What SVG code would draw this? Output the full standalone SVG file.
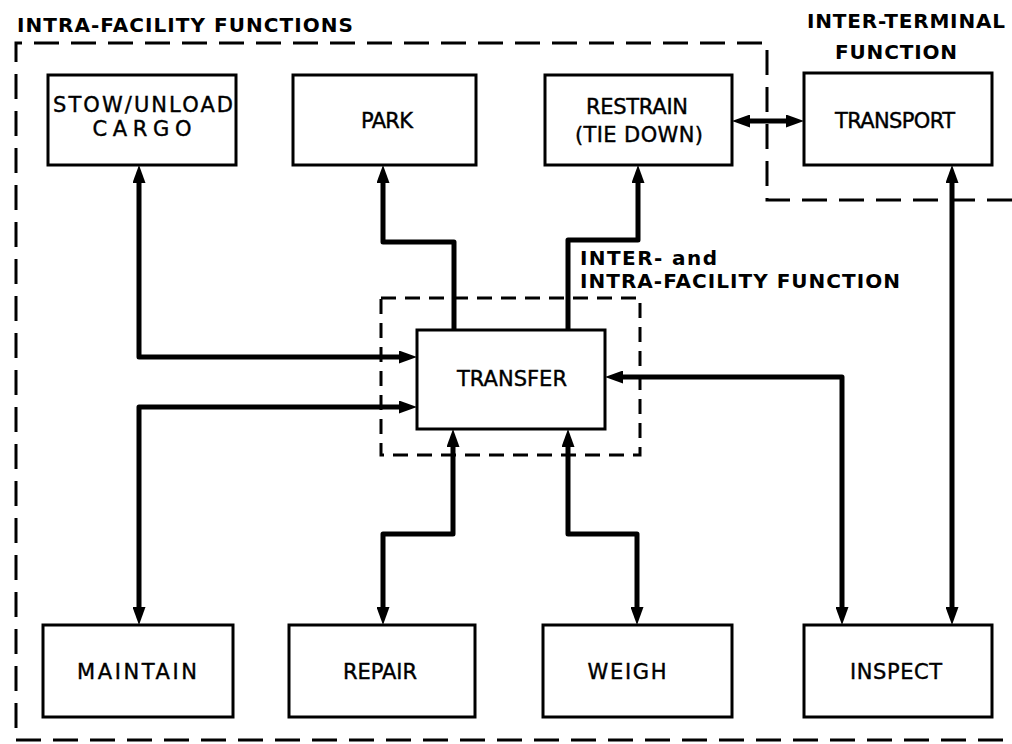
<svg xmlns="http://www.w3.org/2000/svg" width="1012" height="744" viewBox="0 0 1012 744">
<style>
.box{fill:#fff;stroke:#000;stroke-width:3}
.lbl{font-family:"DejaVu Sans","Liberation Sans",sans-serif;font-size:21px;fill:#000;text-anchor:middle;stroke:#000;stroke-width:0.4}
.hdr{font-family:"DejaVu Sans","Liberation Sans",sans-serif;font-size:20px;font-weight:bold;fill:#000}
.con{fill:none;stroke:#000;stroke-width:5;stroke-linejoin:round}
.dash{fill:none;stroke:#000;stroke-width:3}
</style>
<defs>
<marker id="ah" viewBox="0 0 18 13" refX="9" refY="6.5" markerWidth="18" markerHeight="13" markerUnits="userSpaceOnUse" orient="auto-start-reverse">
<path d="M0,0 L18,6.5 L0,13 z" fill="#000"/>
</marker>
</defs>
<rect width="1012" height="744" fill="#fff"/>
<g id="boundaries">
<path class="dash" d="M1012,200 L767,200 L767,43 L16,43 L16,740 L1012,740" stroke-dasharray="25 12"/>
<rect class="dash" x="381" y="298" width="259" height="157" stroke-dasharray="15 9"/>
</g>
<g id="labels">
<text class="hdr" x="17" y="32" textLength="336" lengthAdjust="spacing">INTRA-FACILITY FUNCTIONS</text>
<text class="hdr" x="807" y="28" textLength="198" lengthAdjust="spacing">INTER-TERMINAL</text>
<text class="hdr" x="835" y="59" textLength="122" lengthAdjust="spacing">FUNCTION</text>
<text class="hdr" x="580" y="265" textLength="137" lengthAdjust="spacing">INTER- and</text>
<text class="hdr" x="580" y="288" textLength="320" lengthAdjust="spacing">INTRA-FACILITY FUNCTION</text>
</g>
<g id="connectors">
<path class="con" d="M139,174 L139,357 L408,357" marker-start="url(#ah)" marker-end="url(#ah)"/>
<path class="con" d="M408,407 L139,407 L139,616" marker-start="url(#ah)" marker-end="url(#ah)"/>
<path class="con" d="M454,330 L454,242 L383,242 L383,174" marker-end="url(#ah)"/>
<path class="con" d="M568,330 L568,240 L638,240 L638,174" marker-end="url(#ah)"/>
<path class="con" d="M741,121 L795,121" marker-start="url(#ah)" marker-end="url(#ah)"/>
<path class="con" d="M952,174 L952,616" marker-start="url(#ah)" marker-end="url(#ah)"/>
<path class="con" d="M614,377 L842,377 L842,616" marker-start="url(#ah)" marker-end="url(#ah)"/>
<path class="con" d="M453,438 L453,534 L383,534 L383,616" marker-start="url(#ah)" marker-end="url(#ah)"/>
<path class="con" d="M568,438 L568,534 L637,534 L637,616" marker-start="url(#ah)" marker-end="url(#ah)"/>
</g>
<g id="stow"><rect class="box" x="48" y="75" width="188" height="90"/>
<text class="lbl" x="143" y="112" textLength="180" lengthAdjust="spacing">STOW/UNLOAD</text>
<text class="lbl" x="142" y="136" textLength="99" lengthAdjust="spacing">CARGO</text></g>
<g id="park"><rect class="box" x="293" y="75" width="183" height="90"/>
<text class="lbl" x="387" y="128" textLength="52" lengthAdjust="spacing">PARK</text></g>
<g id="restrain"><rect class="box" x="545" y="75" width="187" height="90"/>
<text class="lbl" x="637" y="114" textLength="102" lengthAdjust="spacing">RESTRAIN</text>
<text class="lbl" x="639" y="142" textLength="128" lengthAdjust="spacing">(TIE DOWN)</text></g>
<g id="transport"><rect class="box" x="804" y="73" width="188" height="92"/>
<text class="lbl" x="895" y="128" textLength="120" lengthAdjust="spacing">TRANSPORT</text></g>
<g id="transfer"><rect class="box" x="417" y="330" width="188" height="99"/>
<text class="lbl" x="512" y="386" textLength="110" lengthAdjust="spacing">TRANSFER</text></g>
<g id="maintain"><rect class="box" x="43" y="625" width="190" height="92"/>
<text class="lbl" x="137" y="679" textLength="120" lengthAdjust="spacing">MAINTAIN</text></g>
<g id="repair"><rect class="box" x="289" y="625" width="186" height="92"/>
<text class="lbl" x="380" y="679" textLength="74" lengthAdjust="spacing">REPAIR</text></g>
<g id="weigh"><rect class="box" x="543" y="625" width="189" height="92"/>
<text class="lbl" x="627" y="679" textLength="79" lengthAdjust="spacing">WEIGH</text></g>
<g id="inspect"><rect class="box" x="804" y="625" width="188" height="92"/>
<text class="lbl" x="896" y="679" textLength="92" lengthAdjust="spacing">INSPECT</text></g>
</svg>
